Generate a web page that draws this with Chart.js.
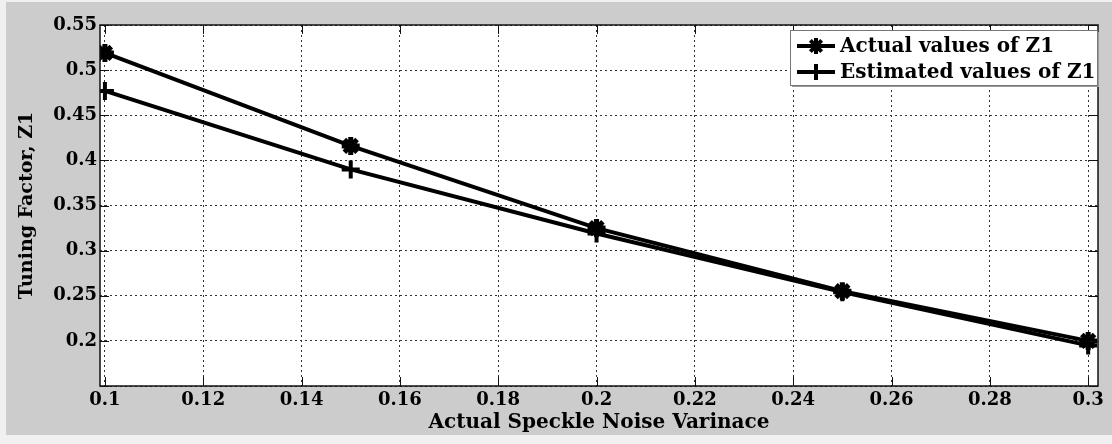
<!DOCTYPE html>
<html lang="en">
<head>
  <meta charset="UTF-8">
  <title>Tuning Factor Z1</title>
  <script src="https://cdn.jsdelivr.net/npm/chart.js"></script>
  <style>
    html, body { margin: 0; padding: 0; background: #f0f0f0; }
    canvas { display: block; }
  </style>
</head>
<body>
<canvas id="grafico" width="1112" height="444"></canvas>

<script>
  // datos
  const varianza = [0.1, 0.15, 0.2, 0.25, 0.3];
  const z1Actual = [0.519, 0.416, 0.325, 0.255, 0.2];
  const z1Estimado = [0.477, 0.39, 0.319, 0.254, 0.195];
  const nombres = ['Actual values of Z1', 'Estimated values of Z1'];
  const marcas = ['star', 'cross'];

  const fuente = 'DejaVu Serif';
  const fmt = v => parseFloat(Number(v).toFixed(2)).toString();

  const puntos = serie => varianza.map((x, i) => ({ x: x, y: serie[i] }));

  // dibuja el marcador a mano para la leyenda
  const marcador = (ctx, estilo, x, y, r) => {
    ctx.beginPath();
    ctx.moveTo(x - r, y); ctx.lineTo(x + r, y);
    ctx.moveTo(x, y - r); ctx.lineTo(x, y + r);
    if (estilo === 'star') {
      const d = r * Math.SQRT1_2;
      ctx.moveTo(x - d, y - d); ctx.lineTo(x + d, y + d);
      ctx.moveTo(x - d, y + d); ctx.lineTo(x + d, y - d);
    }
    ctx.stroke();
  };

  const fondo = {
    id: 'fondo',
    beforeDraw(chart) {
      const { ctx, chartArea: a } = chart;
      ctx.save();
      ctx.fillStyle = '#f0f0f0';
      ctx.fillRect(0, 0, chart.width, chart.height);
      ctx.fillStyle = '#cccccc';
      ctx.fillRect(6, 2, chart.width - 6, 433);
      ctx.fillStyle = '#ffffff';
      ctx.fillRect(a.left, a.top, a.right - a.left, a.bottom - a.top);
      ctx.restore();
    },
    afterDraw(chart) {
      const { ctx, chartArea: a } = chart;
      const sx = chart.scales.x, sy = chart.scales.y;
      ctx.save();

      // marco del area
      ctx.strokeStyle = '#111';
      ctx.lineWidth = 1.5;
      ctx.strokeRect(a.left, a.top, a.right - a.left, a.bottom - a.top);

      // marcas de los ejes hacia dentro
      ctx.lineWidth = 1;
      ctx.beginPath();
      sx.ticks.forEach(t => {
        const px = Math.round(sx.getPixelForValue(t.value)) + 0.5;
        ctx.moveTo(px, a.bottom); ctx.lineTo(px, a.bottom - 9);
        ctx.moveTo(px, a.top); ctx.lineTo(px, a.top + 9);
      });
      sy.ticks.forEach(t => {
        const py = Math.round(sy.getPixelForValue(t.value)) + 0.5;
        ctx.moveTo(a.left, py); ctx.lineTo(a.left + 9, py);
        ctx.moveTo(a.right, py); ctx.lineTo(a.right - 9, py);
      });
      ctx.stroke();

      // leyenda
      const bx = 790, by = 30, bw = 307, bh = 55;
      ctx.fillStyle = '#9a9a9a';
      ctx.fillRect(bx + 2, by + 2, bw, bh);
      ctx.fillStyle = '#ffffff';
      ctx.fillRect(bx, by, bw, bh);
      ctx.strokeStyle = '#777';
      ctx.lineWidth = 1;
      ctx.strokeRect(bx + 0.5, by + 0.5, bw, bh);

      ctx.font = 'bold 20px "' + fuente + '"';
      ctx.textBaseline = 'middle';
      ctx.textAlign = 'left';
      nombres.forEach((n, i) => {
        const y = by + 16 + i * 26;
        ctx.strokeStyle = '#000';
        ctx.lineWidth = 4;
        ctx.beginPath();
        ctx.moveTo(bx + 7, y); ctx.lineTo(bx + 45, y);
        ctx.stroke();
        ctx.lineWidth = 4;
        marcador(ctx, marcas[i], bx + 26, y, 8);
        ctx.fillStyle = '#000';
        ctx.fillText(n, bx + 50, y + 1);
      });
      ctx.restore();
    }
  };

  const ejeTicks = {
    color: '#000',
    font: { family: fuente, weight: 'bold', size: 18 }
  };

  new Chart(document.getElementById('grafico').getContext('2d'), {
    type: 'line',
    data: {
      datasets: [
        {
          label: nombres[0],
          data: puntos(z1Actual),
          borderColor: '#000',
          backgroundColor: '#000',
          borderWidth: 4,
          pointStyle: marcas[0],
          pointRadius: 9,
          pointBorderWidth: 5,
          pointBorderColor: '#000',
          tension: 0,
          fill: false
        },
        {
          label: nombres[1],
          data: puntos(z1Estimado),
          borderColor: '#000',
          backgroundColor: '#000',
          borderWidth: 4,
          pointStyle: marcas[1],
          pointRadius: 9,
          pointBorderWidth: 4,
          pointBorderColor: '#000',
          tension: 0,
          fill: false
        }
      ]
    },
    options: {
      responsive: false,
      animation: false,
      devicePixelRatio: 1,
      layout: { padding: { left: 6, top: 25, right: 10, bottom: 9 } },
      plugins: {
        legend: { display: false },
        tooltip: { enabled: false }
      },
      scales: {
        x: {
          type: 'linear',
          min: 0.099,
          max: 0.302,
          afterFit: s => { s.height = 49; },
          ticks: Object.assign({
            stepSize: 0.02,
            includeBounds: false,
            autoSkip: false,
            maxRotation: 0,
            padding: 4,
            callback: v => fmt(v)
          }, ejeTicks),
          grid: { color: '#333', lineWidth: 1, drawTicks: false, borderDash: [2, 3] },
          border: { display: false, dash: [2, 3] },
          title: {
            display: true,
            text: 'Actual Speckle Noise Varinace',
            color: '#000',
            font: { family: fuente, weight: 'bold', size: 20 },
            padding: { top: 1, bottom: 0 }
          }
        },
        y: {
          min: 0.15,
          max: 0.55,
          afterFit: s => { s.width = 94; },
          ticks: Object.assign({
            stepSize: 0.05,
            padding: 3,
            callback: v => (Math.abs(v - 0.15) < 1e-6 ? '' : fmt(v))
          }, ejeTicks),
          grid: { color: '#333', lineWidth: 1, drawTicks: false, borderDash: [2, 3] },
          border: { display: false, dash: [2, 3] },
          title: {
            display: true,
            text: 'Tuning Factor, Z1',
            color: '#000',
            font: { family: fuente, weight: 'bold', size: 19 },
            padding: { top: 10, bottom: 0 }
          }
        }
      }
    },
    plugins: [fondo]
  });
</script>
</body>
</html>
